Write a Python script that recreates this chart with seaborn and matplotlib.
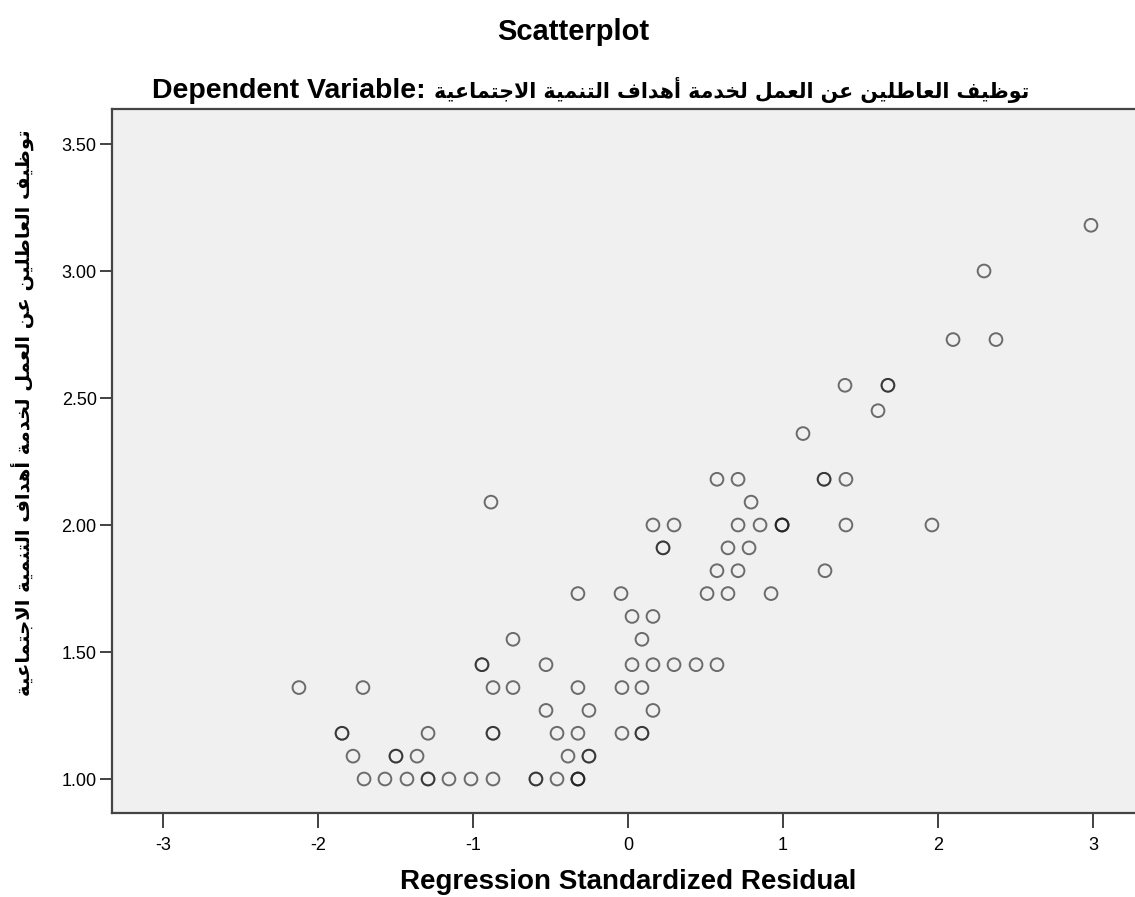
import matplotlib
matplotlib.use("Agg")
import matplotlib.pyplot as plt
import seaborn as sns
import pandas as pd

# ---------------- data ----------------
residual = [
    -1.703, -1.568, -1.426, -1.290, -1.290, -1.155, -1.013, -0.871, -0.594, -0.594, -0.458, -0.323, -0.323, -0.323,
    -1.774, -1.497, -1.497, -1.361, -0.387, -0.252, -0.252,
    -1.845, -1.845, -1.290, -0.871, -0.871, -0.458, -0.323, -0.039, 0.090, 0.090,
    -0.529, -0.252, 0.161,
    -2.123, -1.710, -0.871, -0.742, -0.323, -0.039, 0.090,
    -0.942, -0.942, -0.529, 0.026, 0.161, 0.297, 0.439, 0.574,
    -0.742, 0.090,
    0.026, 0.161,
    -0.323, -0.045, 0.510, 0.645, 0.923,
    0.574, 0.710, 1.271,
    0.226, 0.226, 0.645, 0.781,
    0.161, 0.297, 0.710, 0.852, 0.994, 0.994, 0.994, 1.406, 1.961,
    -0.884, 0.794,
    0.574, 0.710, 1.265, 1.265, 1.406,
    1.129,
    1.613,
    1.400, 1.677, 1.677,
    2.097, 2.374,
    2.297,
    2.987,
]
dependent = (
    [1.00] * 14 + [1.09] * 7 + [1.18] * 10 + [1.27] * 3 + [1.36] * 7 + [1.45] * 8
    + [1.55] * 2 + [1.64] * 2 + [1.73] * 5 + [1.82] * 3 + [1.91] * 4 + [2.00] * 9
    + [2.09] * 2 + [2.18] * 5 + [2.36] * 1 + [2.45] * 1 + [2.55] * 3 + [2.73] * 2
    + [3.00] * 1 + [3.18] * 1
)
x_ticks = [-3, -2, -1, 0, 1, 2, 3]
y_ticks = [1.00, 1.50, 2.00, 2.50, 3.00, 3.50]

title = "Scatterplot"
dep_label = "Dependent Variable:"
arabic_var = "توظيف العاطلين عن العمل لخدمة أهداف التنمية الاجتماعية"
x_label = "Regression Standardized Residual"

# ------------- minimal Arabic shaping (presentation forms, visual order) -------------
FORMS = {
    'ا': ('\uFE8D', '\uFE8E', None, None),
    'أ': ('\uFE83', '\uFE84', None, None),
    'ة': ('\uFE93', '\uFE94', None, None),
    'د': ('\uFEA9', '\uFEAA', None, None),
    'و': ('\uFEED', '\uFEEE', None, None),
    'ت': ('\uFE95', '\uFE96', '\uFE97', '\uFE98'),
    'ج': ('\uFE9D', '\uFE9E', '\uFE9F', '\uFEA0'),
    'خ': ('\uFEA5', '\uFEA6', '\uFEA7', '\uFEA8'),
    'ط': ('\uFEC1', '\uFEC2', '\uFEC3', '\uFEC4'),
    'ظ': ('\uFEC5', '\uFEC6', '\uFEC7', '\uFEC8'),
    'ع': ('\uFEC9', '\uFECA', '\uFECB', '\uFECC'),
    'ف': ('\uFED1', '\uFED2', '\uFED3', '\uFED4'),
    'ل': ('\uFEDD', '\uFEDE', '\uFEDF', '\uFEE0'),
    'م': ('\uFEE1', '\uFEE2', '\uFEE3', '\uFEE4'),
    'ن': ('\uFEE5', '\uFEE6', '\uFEE7', '\uFEE8'),
    'ه': ('\uFEE9', '\uFEEA', '\uFEEB', '\uFEEC'),
    'ي': ('\uFEF1', '\uFEF2', '\uFEF3', '\uFEF4'),
}
LAM_ALEF = {'ا': ('\uFEFB', '\uFEFC'), 'أ': ('\uFEF7', '\uFEF8')}


def shape_arabic(text):
    tokens = []
    i = 0
    while i < len(text):
        c = text[i]
        if c == 'ل' and i + 1 < len(text) and text[i + 1] in LAM_ALEF:
            tokens.append(('LA', text[i + 1]))
            i += 2
        else:
            tokens.append(('C', c))
            i += 1

    def dual(tok):
        return tok is not None and tok[0] == 'C' and tok[1] in FORMS and FORMS[tok[1]][2] is not None

    def letter(tok):
        return tok is not None and (tok[0] == 'LA' or tok[1] in FORMS)

    out = []
    for k, tok in enumerate(tokens):
        prev = tokens[k - 1] if k > 0 else None
        nxt = tokens[k + 1] if k + 1 < len(tokens) else None
        jp = dual(prev) and letter(tok)
        if tok[0] == 'LA':
            iso, fin = LAM_ALEF[tok[1]]
            out.append(fin if jp else iso)
            continue
        c = tok[1]
        if c not in FORMS:
            out.append(c)
            continue
        iso, fin, ini, med = FORMS[c]
        jn = dual(tok) and letter(nxt)
        if jp and jn:
            out.append(med)
        elif jp:
            out.append(fin)
        elif jn:
            out.append(ini)
        else:
            out.append(iso)
    return ''.join(out)[::-1]


arabic_visual = shape_arabic(arabic_var)

# ---------------- plot ----------------
sns.set_theme(style="white")
FAM = ['Liberation Sans', 'DejaVu Sans']
plt.rcParams['font.family'] = FAM
plt.rcParams['text.color'] = 'black'

W, H = 1135, 897
fig = plt.figure(figsize=(W / 100, H / 100), dpi=100)
fig.patch.set_facecolor('white')

left_px, top_px, bottom_px = 112, 109, 813
right_px = 1141
ax = fig.add_axes([left_px / W, 1 - bottom_px / H, (right_px - left_px) / W, (bottom_px - top_px) / H])
ax.set_facecolor('#f0f0f0')

df = pd.DataFrame({'residual': residual, 'dependent': dependent})
sns.scatterplot(data=df, x='residual', y='dependent', ax=ax, marker='o', s=84,
                facecolor='none', edgecolor=(0.1, 0.1, 0.1, 0.62), linewidth=1.4, legend=False)

# pixel mapping: x=0 at 628px, 155 px per unit; y=1 at 779px, 254 px per unit
x0_px, xs = 628, 155.0
y1_px, ys = 779, 254.0
ax.set_xlim((left_px - x0_px) / xs, (right_px - x0_px) / xs)
ax.set_ylim(1 - (bottom_px - y1_px) / ys, 1 + (y1_px - top_px) / ys)

ax.set_xticks(x_ticks)
ax.set_xticklabels([str(t) for t in x_ticks])
ax.set_yticks(y_ticks)
ax.set_yticklabels([f"{t:.2f}" for t in y_ticks])
ax.tick_params(axis='both', which='major', direction='out', width=1.3,
               color='#333333', labelsize=13, labelcolor='black', left=True, bottom=True)
ax.tick_params(axis='x', length=11, pad=6)
ax.tick_params(axis='y', length=9, pad=2)
ax.set_xlabel('')
ax.set_ylabel('')
for side in ['left', 'bottom', 'top', 'right']:
    ax.spines[side].set_visible(True)
    ax.spines[side].set_color('#444444')
    ax.spines[side].set_linewidth(1.6)

fig.text(573 / W, 1 - 32 / H, title, ha='center', va='center', fontsize=21,
         fontweight='bold', family=FAM, color='black')
# subtitle: English part then Arabic part (visual order) on a shared baseline
fig.text(426 / W, 1 - 98 / H, dep_label, ha='right', va='baseline',
         fontsize=20.5, fontweight='bold', family=FAM, color='black')
fig.text(434 / W, 1 - 98 / H, arabic_visual, ha='left', va='baseline',
         fontsize=14.8, fontweight='bold', family=['DejaVu Sans'], color='black')
fig.text(628 / W, 1 - 882 / H, x_label, ha='center', va='center', fontsize=20,
         fontweight='bold', family=FAM, color='black')
fig.text(22 / W, 1 - 413 / H, arabic_visual, ha='center', va='center', rotation=90,
         fontsize=14, fontweight='bold', family=['DejaVu Sans'], color='black')

fig.savefig('out.png', dpi=100, facecolor='white')
